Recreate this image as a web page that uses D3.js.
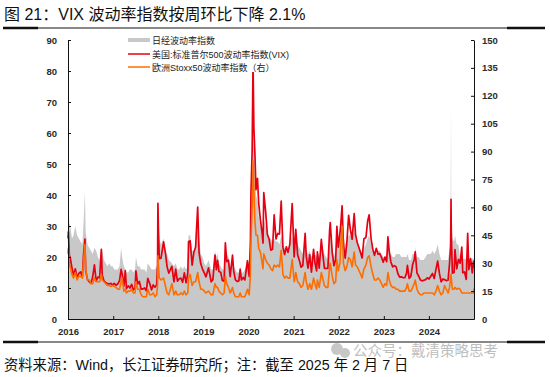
<!DOCTYPE html>
<html>
<head>
<meta charset="utf-8">
<script src="https://cdn.jsdelivr.net/npm/d3@7"></script>
<style>
  body { margin: 0; background: #fff; }
  svg { display: block; }
  text { font-family: "Liberation Sans", Arial, "Noto Sans CJK SC", sans-serif; }
</style>
</head>
<body>
<div id="chart"></div>
<script>
// dates of the points (semi-monthly plus spike days)
const dates = [
  // 2016
  "2016-02-08","2016-02-11","2016-02-19","2016-02-26","2016-03-11","2016-03-24","2016-04-07","2016-04-21","2016-05-06","2016-05-20","2016-06-03","2016-06-13","2016-06-24","2016-06-30","2016-07-15","2016-07-29","2016-08-12","2016-08-26","2016-09-09","2016-09-23","2016-10-07","2016-10-21","2016-11-04","2016-11-11","2016-11-25","2016-12-09","2016-12-23",
  // 2017
  "2017-01-06","2017-01-20","2017-02-03","2017-02-17","2017-03-03","2017-03-17","2017-03-31","2017-04-13","2017-04-21","2017-05-05","2017-05-17","2017-05-26","2017-06-09","2017-06-23","2017-07-07","2017-07-21","2017-08-04","2017-08-11","2017-08-25","2017-09-08","2017-09-22","2017-10-06","2017-10-20","2017-11-03","2017-11-15","2017-12-01","2017-12-15","2017-12-29",
  // 2018
  "2018-01-12","2018-01-26","2018-02-02","2018-02-05","2018-02-09","2018-02-16","2018-03-02","2018-03-23","2018-04-06","2018-04-20","2018-05-04","2018-05-29","2018-06-15","2018-06-29","2018-07-13","2018-07-27","2018-08-10","2018-08-24","2018-09-07","2018-09-21","2018-10-05","2018-10-11","2018-10-24","2018-11-09","2018-11-23","2018-12-07","2018-12-24",
  // 2019
  "2019-01-04","2019-01-18","2019-02-01","2019-02-15","2019-03-01","2019-03-22","2019-04-12","2019-04-26","2019-05-13","2019-05-24","2019-06-03","2019-06-14","2019-06-28","2019-07-12","2019-07-26","2019-08-05","2019-08-16","2019-08-30","2019-09-13","2019-10-02","2019-10-11","2019-10-25","2019-11-08","2019-11-22","2019-12-03","2019-12-13","2019-12-27",
  // 2020
  "2020-01-10","2020-01-31","2020-02-14","2020-02-24","2020-02-28","2020-03-09","2020-03-16","2020-03-23","2020-03-31","2020-04-09","2020-04-21","2020-05-01","2020-05-15","2020-05-29","2020-06-05","2020-06-11","2020-06-26","2020-07-10","2020-07-24","2020-08-07","2020-08-21","2020-09-03","2020-09-18","2020-10-02","2020-10-16","2020-10-30","2020-11-13","2020-11-27","2020-12-11","2020-12-24",
  // 2021
  "2021-01-08","2021-01-27","2021-02-12","2021-02-25","2021-03-12","2021-03-26","2021-04-09","2021-04-23","2021-05-12","2021-05-21","2021-06-04","2021-06-18","2021-07-02","2021-07-19","2021-07-30","2021-08-13","2021-08-19","2021-09-03","2021-09-20","2021-10-01","2021-10-15","2021-10-29","2021-11-12","2021-11-26","2021-12-01","2021-12-17","2021-12-31",
  // 2022
  "2022-01-14","2022-01-24","2022-02-04","2022-02-18","2022-02-24","2022-03-07","2022-03-18","2022-04-01","2022-04-14","2022-04-29","2022-05-13","2022-05-27","2022-06-13","2022-06-24","2022-07-08","2022-07-22","2022-08-05","2022-08-16","2022-08-31","2022-09-16","2022-09-30","2022-10-12","2022-10-28","2022-11-11","2022-11-25","2022-12-09","2022-12-23",
  // 2023
  "2023-01-06","2023-01-20","2023-02-03","2023-02-17","2023-03-03","2023-03-13","2023-03-24","2023-04-06","2023-04-21","2023-05-05","2023-05-19","2023-06-02","2023-06-16","2023-06-30","2023-07-14","2023-07-28","2023-08-11","2023-08-18","2023-09-01","2023-09-15","2023-09-29","2023-10-13","2023-10-20","2023-11-03","2023-11-17","2023-12-01","2023-12-15","2023-12-29",
  // 2024
  "2024-01-12","2024-01-26","2024-02-09","2024-02-23","2024-03-08","2024-03-22","2024-04-05","2024-04-19","2024-05-03","2024-05-17","2024-05-31","2024-06-14","2024-06-28","2024-07-12","2024-07-24","2024-08-02","2024-08-05","2024-08-07","2024-08-16","2024-08-30","2024-09-06","2024-09-20","2024-10-04","2024-10-18","2024-10-31","2024-11-08","2024-11-22","2024-12-06","2024-12-18","2024-12-27",
  // 2025
  "2025-01-10","2025-01-24","2025-02-03","2025-02-07"
];

// 美国:标准普尔500波动率指数(VIX), left axis
const vix = [
  26.0,28.1,20.5,19.8,16.5,14.0,16.2,13.3,14.7,15.2,13.5,20.9,25.8,15.6,12.7,12.0,11.5,13.6,17.5,12.3,13.5,13.3,22.5,14.2,12.3,11.8,11.4,
  11.3,11.5,11.0,11.5,10.9,11.3,12.4,16.0,14.6,10.6,15.6,9.8,10.7,10.0,11.2,9.4,10.0,15.5,11.3,12.1,9.6,9.7,10.0,9.1,13.1,11.4,9.4,11.0,
  10.2,11.1,17.3,37.3,29.1,19.5,19.6,24.9,21.5,16.9,14.8,17.0,12.0,16.1,12.2,13.0,13.2,11.9,14.9,11.7,14.8,25.0,25.2,17.4,21.5,23.2,36.1,
  21.4,17.8,16.1,14.9,13.6,16.5,12.0,12.7,20.6,15.9,18.9,15.3,15.1,12.4,12.2,24.6,18.5,19.0,13.7,20.6,15.6,12.7,12.1,12.3,16.0,12.6,13.4,
  12.6,18.8,13.7,25.0,40.1,54.5,82.7,61.6,53.5,41.7,45.4,37.2,31.9,27.5,24.5,40.8,34.7,27.3,25.8,22.2,22.5,33.6,25.8,27.6,27.4,38.0,23.1,20.8,23.3,21.5,
  24.1,37.2,20.0,28.9,20.7,18.9,16.7,17.3,27.6,20.2,16.4,20.7,15.1,22.5,18.2,15.5,21.7,16.4,25.7,21.2,16.3,16.3,16.3,28.6,31.1,21.6,17.2,
  19.2,29.9,23.2,27.8,30.3,36.5,23.9,19.6,24.4,33.4,28.9,25.7,34.0,27.2,24.6,23.0,21.2,19.7,25.9,26.3,31.6,33.6,25.8,22.5,20.5,22.8,20.9,
  21.1,19.9,18.3,20.0,18.5,26.5,21.7,18.4,16.8,17.2,16.8,14.6,13.5,13.6,13.3,13.3,14.8,17.3,13.1,13.8,17.5,19.3,21.7,14.9,13.8,12.6,12.3,12.5,
  12.7,13.3,12.9,13.8,14.7,13.1,16.0,18.7,14.7,12.0,12.9,12.7,12.4,12.5,18.0,23.4,38.6,27.9,14.8,15.0,22.4,16.2,19.2,18.0,23.2,14.9,15.2,12.8,27.6,15.9,
  19.5,14.9,18.6,16.5
];

// 欧洲Stoxx50波动率指数, right axis
const stoxx = [
  35,38,29,28,24,22,25,21,23,23,22,31,40,27,21,21,19,19,22,20,20,20,24,21,20,19,18,
  18,17.5,18,17.5,17,16,16,20,22,15,16,14,15,15,16,14,14,20,16,16,13,12,12,12,16,13,13,14,
  12,13,18,34,29,22,21,22,18,14,13,19,13,15,13,13,14,13,15,13,14,22,24,18,20,20,25,
  20,16,16,15,14,15,13,13,19,17,17,15,14,13,14,23,19,17,14,17,14,12,12,12,14,12,12,
  12,16,13,24,40,60,85,70,53,45,45,38,36,30,27,35,32,30,29,27,26,29,28,29,28,37,24,22,23,22,
  22,32,20,25,20,19,17,18,25,20,16,19,16,22,19,16,21,17,25,22,18,17,17,28,30,23,19,
  20,32,26,30,40,50,30,26,28,33,32,28,36,29,28,26,24,22,27,29,33,34,28,24,21,21,22,
  21,19,17,19,18,25,21,18,17,17,16,16,15,15,15,15,17,19,15,15,17,19,21,16,14,13,13,14,
  14,14,14,14,14,13,15,18,15,13,14,18,16,14,17,22,24,22,16,16,17,16,16.5,16,14,14,14,14,14,14,
  14,14,14,16.5
];

// 日经波动率指数, left axis
const nikkei = [
  36,38,31,30,26,27,30,27,26,25,24,31,41,28,24,23,22,21,23,22,20,19,23,22,19,18,17,
  18,17,17,16,16,16,17,23,20,17,16,15,15,16,16,15,16,20,17,17,16,16,16,15,18,17,16,16,
  16,17,20,33,30,26,24,26,22,21,19,18,17,18,16,16,17,16,17,16,17,27,27,22,22,23,29,
  26,21,20,18,17,19,16,16,22,20,21,18,17,16,16,24,21,20,17,19,17,16,15,15,17,15,15,
  16,19,17,22,35,45,58,55,48,40,38,33,30,28,26,32,30,27,26,26,25,26,25,25,24,27,24,23,23,22,
  24,27,22,27,24,23,22,21,25,22,21,22,20,22,21,20,22,20,23,23,21,20,19,25,27,23,20,
  22,28,26,27,30,31,27,24,25,27,27,25,29,26,24,23,22,21,23,24,26,27,24,22,20,21,22,
  22,21,20,20,21,24,22,21,20,20,21,21,21,20,20,20,20,21,19,19,21,21,23,20,20,19,19,19,
  20,21,21,21,22,21,22,24,21,19,19,19,19,19,23,35,70,40,26,25,27,24,24,19.4,19.4,19.4,19.4,19.4,19.4,19.4,
  19.4,19.4,19.4,19.4
];

const leftTicks = [0,10,20,30,40,50,60,70,80,90];
const rightTicks = [0,15,30,45,60,75,90,105,120,135,150];
const yearTicks = [2016,2017,2018,2019,2020,2021,2022,2023,2024];
const legendLabels = ["日经波动率指数","美国:标准普尔500波动率指数(VIX)","欧洲Stoxx50波动率指数（右）"];
const colors = {gray:"#c8c8c8", red:"#e60012", orange:"#ff6d00"};

const W = 550, H = 377;
const parse = d3.timeParse("%Y-%m-%d");
const data = dates.map((d,i) => ({date: parse(d), vix: vix[i], stoxx: stoxx[i], nk: nikkei[i]}));

const start = data[0].date, end = data[data.length-1].date;
const scaleX = d3.scaleTime().domain([start, end]).range([68, 474]);
const scaleL = d3.scaleLinear().domain([0, 90]).range([319, 40]);
const scaleR = d3.scaleLinear().domain([0, 150]).range([319, 40]);

const svg = d3.select("#chart").append("svg").attr("width", W).attr("height", H);
svg.append("rect").attr("width", W).attr("height", H).attr("fill", "#fff");

// title + rules
svg.append("text").attr("x", 4).attr("y", 20)
  .attr("font-size", 16).attr("fill", "#111")
  .text("图 21：VIX 波动率指数按周环比下降 2.1%");

function rule(y){
  svg.append("line").attr("x1",3).attr("x2",545).attr("y1",y).attr("y2",y).attr("stroke","#111").attr("stroke-width",1);
  svg.append("line").attr("x1",3).attr("x2",38).attr("y1",y).attr("y2",y).attr("stroke","#111").attr("stroke-width",2.5);
  svg.append("line").attr("x1",507).attr("x2",545).attr("y1",y).attr("y2",y).attr("stroke","#111").attr("stroke-width",2.5);
}
rule(28);
rule(342);

const plot = svg.append("g");

const area = d3.area()
  .x(d => scaleX(d.date))
  .y0(scaleL(0))
  .y1(d => scaleL(d.nk));
plot.append("path").datum(data).attr("d", area).attr("fill", colors.gray);

const lineVix = d3.line().x(d => scaleX(d.date)).y(d => scaleL(d.vix));
plot.append("path").datum(data).attr("d", lineVix)
  .attr("fill","none").attr("stroke", colors.red).attr("stroke-width", 1.7).attr("stroke-linejoin","round");

const lineStoxx = d3.line().x(d => scaleX(d.date)).y(d => scaleR(d.stoxx));
plot.append("path").datum(data).attr("d", lineStoxx)
  .attr("fill","none").attr("stroke", colors.orange).attr("stroke-width", 1.6).attr("stroke-linejoin","round");

// axes
const yearDates = yearTicks.map(y => d3.timeYear.offset(start, y - 2016));
const axisX = d3.axisBottom(scaleX).tickValues(yearDates).tickSizeInner(-3).tickSizeOuter(0)
  .tickPadding(9).tickFormat(d3.timeFormat("%Y"));
const axisL = d3.axisLeft(scaleL).tickValues(leftTicks).tickSizeInner(-3).tickSizeOuter(0).tickPadding(11);
const axisR = d3.axisRight(scaleR).tickValues(rightTicks).tickSizeInner(-3).tickSizeOuter(0).tickPadding(8);

function styleAxis(g){
  g.select(".domain").attr("stroke","#111");
  g.selectAll(".tick line").attr("stroke","#111");
  g.selectAll(".tick text").attr("font-size",9.5).attr("font-weight","bold").attr("fill","#2b2b2b")
    .attr("font-family","'Liberation Sans', Arial, sans-serif");
}
svg.append("g").attr("transform","translate(0,319)").call(axisX).call(styleAxis);
svg.append("g").attr("transform","translate(68,0)").call(axisL).call(styleAxis);
svg.append("g").attr("transform","translate(474,0)").call(axisR).call(styleAxis);

// legend
const legend = svg.append("g");
legend.append("rect").attr("x",125).attr("y",34).attr("width",165).attr("height",38).attr("fill","#fff");
const legY = [40, 54, 67];
legendLabels.forEach((lab, i) => {
  if (i === 0) {
    legend.append("rect").attr("x",128).attr("y",legY[i]-2).attr("width",22).attr("height",4).attr("fill",colors.gray);
  } else {
    legend.append("line").attr("x1",128).attr("x2",150).attr("y1",legY[i]).attr("y2",legY[i])
      .attr("stroke", i === 1 ? colors.red : colors.orange).attr("stroke-width",1.5);
  }
  legend.append("text").attr("x",152).attr("y",legY[i]+3.5).attr("font-size",9).attr("fill","#222").text(lab);
});

// footer
svg.append("text").attr("x",4).attr("y",370).attr("font-size",14.3).attr("fill","#111")
  .text("资料来源：Wind，长江证券研究所；注：截至 2025 年 2 月 7 日");

// watermark
const wm = svg.append("g").attr("opacity",0.55);
wm.append("circle").attr("cx",337).attr("cy",349).attr("r",6).attr("fill","#9a9a9a");
wm.append("circle").attr("cx",345).attr("cy",353).attr("r",5).attr("fill","#9a9a9a");
wm.append("text").attr("x",353).attr("y",356).attr("font-size",14.5).attr("fill","#8a8a8a")
  .attr("font-family","'Noto Sans CJK SC', sans-serif").text("公众号：戴清策略思考");
</script>
</body>
</html>
